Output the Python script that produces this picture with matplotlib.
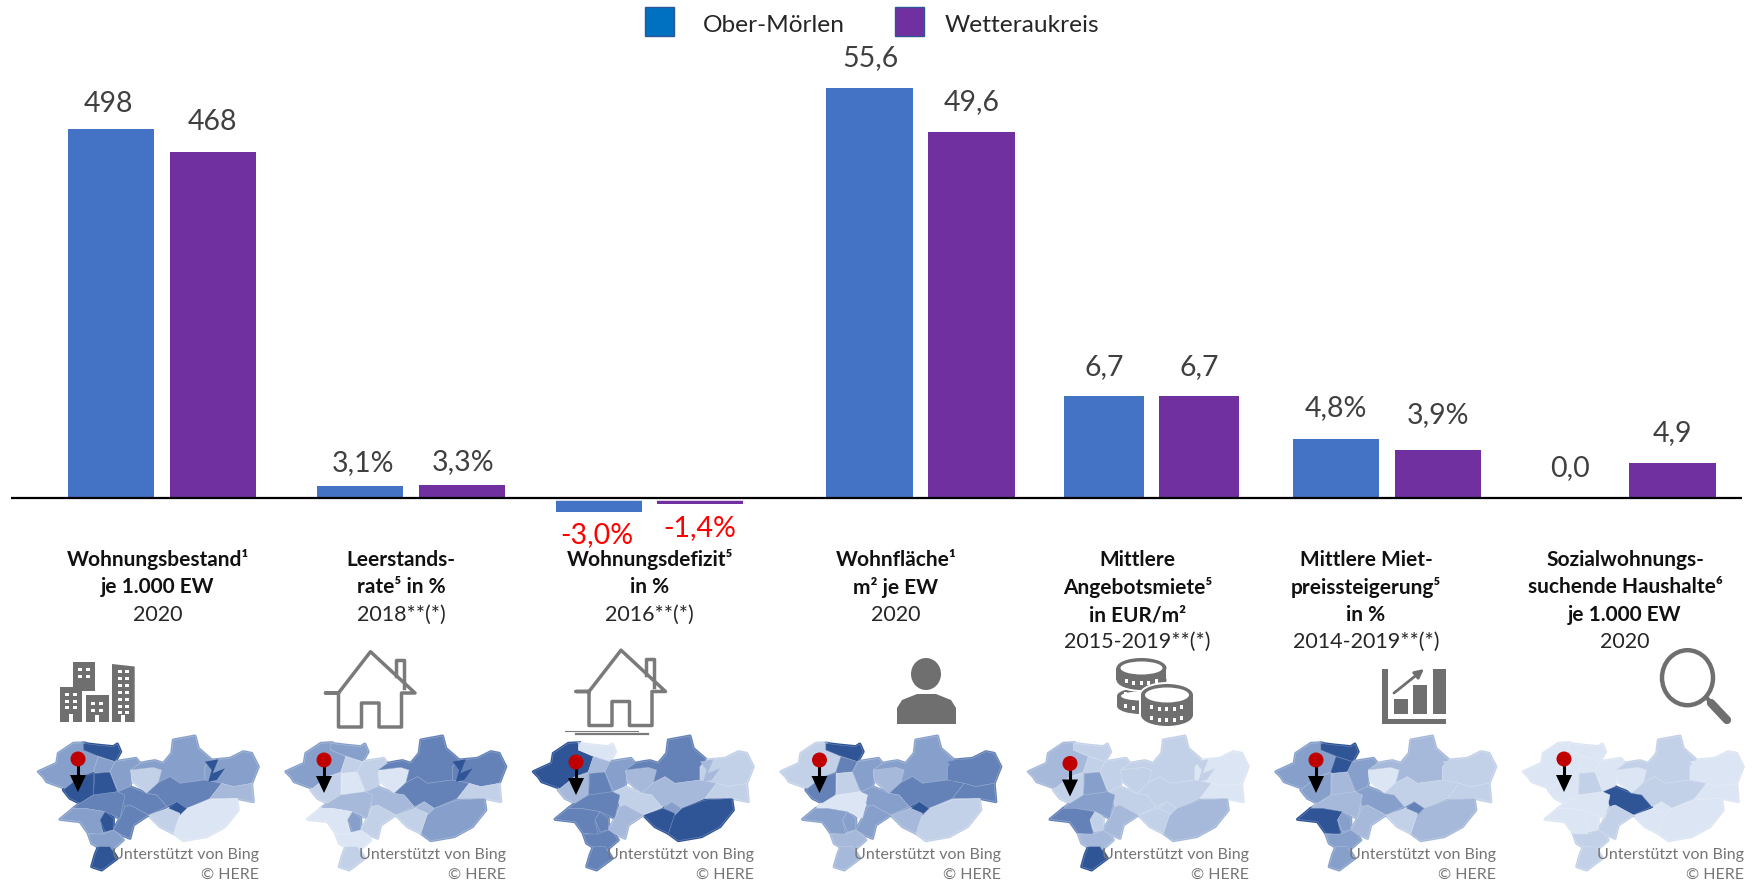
import matplotlib
matplotlib.use("Agg")
import numpy as np
import matplotlib.pyplot as plt
from matplotlib.patches import Polygon, Rectangle, Ellipse, Circle

plt.rcParams['font.family'] = ['Lato', 'DejaVu Sans']

W, H = 1753, 891

# chart data
series_names = ["Ober-Mörlen", "Wetteraukreis"]
values_a = [498, 3.1, -3.0, 55.6, 6.7, 4.8, 0.0]
values_b = [468, 3.3, -1.4, 49.6, 6.7, 3.9, 4.9]
labels_a = ["498", "3,1%", "-3,0%", "55,6", "6,7", "4,8%", "0,0"]
labels_b = ["468", "3,3%", "-1,4%", "49,6", "6,7", "3,9%", "4,9"]
titles = [
    ["Wohnungsbestand¹", "je 1.000 EW"],
    ["Leerstands-", "rate⁵ in %"],
    ["Wohnungsdefizit⁵", "in %"],
    ["Wohnfläche¹", "m² je EW"],
    ["Mittlere", "Angebotsmiete⁵", "in EUR/m²"],
    ["Mittlere Miet-", "preissteigerung⁵", "in %"],
    ["Sozialwohnungs-", "suchende Haushalte⁶", "je 1.000 EW"],
]
years = ["2020", "2018**(*)", "2016**(*)", "2020", "2015-2019**(*)", "2014-2019**(*)", "2020"]

# layout of the seven separately scaled bar groups, in pixels
group_left = [68, 317, 556, 826, 1064, 1293, 1527]
group_right = [256, 505, 743, 1015, 1239, 1481, 1716]
units_per_px = [498 / 368, 3.1 / 11.5, 3.0 / 14, 55.6 / 409.5, 6.7 / 101.7, 4.8 / 58.5, 4.9 / 34.5]
title_x = [157.6, 401, 649.6, 896, 1137.6, 1366, 1625]
label_dx_a = [-3, 3, -2, 1, 0, 0, 0]
label_dx_b = [0, 1, 0, 0, 0, 0, 0]
label_dy_a = [25.5, 23, -24, 30, 29, 31, 29]
label_dy_b = [30, 23, -24, 30, 29, 34.5, 30]
BASE = 497.5

BLUE = "#4472C4"
PURPLE = "#7030A0"
GREY = "#6F6F6F"

# map shades, palest to darkest
shades = ["#DCE5F3", "#C3D1E8", "#A6B9DA", "#87A0CB", "#6482B8", "#2F5597"]

regions = [
    [(25, 125), (80, 100), (85, 70), (130, 40), (165, 38), (160, 60), (205, 80), (190, 125), (150, 140), (105, 175), (50, 155), (40, 140)],
    [(160, 40), (200, 45), (250, 50), (262, 42), (272, 65), (255, 95), (205, 78), (160, 60)],
    [(205, 80), (255, 95), (240, 125), (195, 130), (190, 125)],
    [(190, 130), (190, 195), (150, 220), (120, 205), (100, 180), (150, 140)],
    [(195, 130), (240, 127), (262, 185), (215, 200), (190, 195)],
    [(240, 125), (255, 95), (318, 85), (330, 100), (302, 120), (305, 150), (300, 170), (265, 185)],
    [(302, 120), (370, 112), (395, 120), (385, 160), (350, 190), (305, 150)],
    [(330, 100), (355, 95), (375, 92), (400, 100), (425, 70), (430, 30), (495, 18), (505, 55), (545, 90), (525, 110), (525, 150), (450, 160), (420, 140), (385, 158), (395, 120), (370, 112), (302, 120)],
    [(545, 90), (600, 85), (640, 65), (665, 70), (685, 110), (665, 160), (610, 170), (575, 160), (525, 150), (525, 110)],
    [(385, 158), (420, 140), (450, 160), (525, 150), (575, 160), (540, 205), (470, 235), (440, 215), (410, 230), (380, 195), (350, 190)],
    [(575, 160), (610, 170), (665, 160), (670, 215), (620, 205), (570, 205), (540, 205)],
    [(470, 235), (540, 210), (620, 205), (625, 240), (585, 290), (530, 320), (460, 332), (430, 310), (450, 250)],
    [(415, 235), (440, 215), (470, 235), (450, 255), (425, 250)],
    [(355, 255), (415, 235), (450, 250), (430, 310), (390, 290)],
    [(265, 185), (300, 170), (350, 190), (380, 195), (410, 230), (355, 255), (300, 225), (285, 230)],
    [(130, 235), (150, 220), (190, 195), (262, 185), (285, 195), (270, 265), (225, 245), (165, 235)],
    [(90, 268), (130, 235), (165, 235), (225, 245), (210, 270), (220, 315), (175, 310), (150, 275)],
    [(210, 270), (225, 245), (250, 265), (250, 300), (225, 305)],
    [(270, 265), (285, 230), (300, 225), (355, 255), (310, 285), (300, 325), (265, 310), (250, 300)],
    [(175, 312), (220, 312), (250, 300), (265, 310), (280, 330), (240, 365), (210, 355), (185, 340)],
    [(205, 350), (240, 350), (262, 385), (215, 420), (185, 410), (195, 375)],
]
lake = [(525, 95), (565, 88), (548, 130), (585, 115), (560, 150), (535, 155), (545, 120)]

map_shades = [
    [3, 5, 3, 5, 5, 3, 1, 3, 3, 4, 2, 0, 5, 1, 4, 4, 3, 5, 4, 3, 5],
    [3, 3, 1, 1, 0, 1, 0, 4, 4, 4, 1, 3, 2, 1, 2, 2, 0, 3, 1, 0, 1],
    [5, 0, 2, 2, 4, 3, 2, 4, 1, 2, 1, 5, 3, 5, 1, 4, 4, 4, 2, 4, 4],
    [1, 5, 4, 4, 1, 3, 2, 3, 4, 4, 4, 1, 5, 2, 3, 0, 3, 3, 3, 2, 2],
    [2, 1, 1, 1, 3, 1, 1, 1, 0, 1, 0, 2, 1, 1, 1, 3, 4, 1, 2, 2, 5],
    [3, 5, 5, 3, 2, 3, 0, 2, 1, 1, 1, 2, 4, 1, 3, 2, 5, 3, 2, 3, 3],
    [0, 0, 0, 0, 1, 0, 0, 1, 0, 1, 0, 0, 0, 0, 5, 0, 0, 0, 1, 1, 1],
]
lake_shades = [5, 5, 2, 4, 1, 1, 0]
map_step = 247.5
pin_x = [78, 324, 576, 819.5, 1070, 1316, 1564]
pin_y = [759, 760, 762, 760, 763.5, 760, 759]

fig = plt.figure(figsize=(W / 100, H / 100), dpi=100, facecolor="white")

# bars, one axes per group since every indicator has its own scale
for i in range(7):
    ax = fig.add_axes([group_left[i] / W, (H - 525) / H, (group_right[i] - group_left[i]) / W, 485 / H])
    u = units_per_px[i]
    ax.set_ylim(-(525 - BASE) * u, (BASE - 40) * u)
    ax.set_xlim(-0.425, 1.425)
    ax.axis("off")
    vals = [values_a[i], values_b[i]]
    bars = ax.bar([0, 1], vals, width=0.85, color=[BLUE, PURPLE])
    if values_a[i] < 0:
        ax.axhline(0, color="white", lw=4)
    offsets = [(label_dx_a[i], label_dy_a[i]), (label_dx_b[i], label_dy_b[i])]
    for bar, lab, val, off in zip(bars, [labels_a[i], labels_b[i]], vals, offsets):
        ax.annotate(lab, (bar.get_x() + bar.get_width() / 2, val), xytext=off,
                    textcoords="offset pixels", ha="center", va="center", fontsize=20.5,
                    color="#FF0000" if val < 0 else "#404040", annotation_clip=False)

# overlay in pixel coordinates for axis line, texts, icons and maps
ov = fig.add_axes([0, 0, 1, 1], zorder=5)
ov.set_xlim(0, W)
ov.set_ylim(H, 0)
ov.axis("off")
ov.patch.set_alpha(0)

ov.plot([11, 1742], [BASE, BASE], color="black", lw=1.6, solid_capstyle="butt")

# legend
ov.add_patch(Rectangle((645, 7), 29, 29, fc="#0070C0", ec="#2F5597", lw=1))
ov.add_patch(Rectangle((895, 7), 29, 29, fc=PURPLE, ec="#2F5597", lw=1))
ov.text(703, 26, series_names[0], fontsize=17.6, color="#262626", va="center")
ov.text(945, 25, series_names[1], fontsize=17.6, color="#262626", va="center")

# indicator titles
line_y = [560, 587, 615, 642]
for x, title, year in zip(title_x, titles, years):
    for k, line in enumerate(title):
        ov.text(x, line_y[k], line, fontsize=15, fontweight="bold", color="#111111", ha="center", va="center")
    ov.text(x, line_y[len(title)], year, fontsize=15.5, color="#262626", ha="center", va="center")

# maps
for m in range(7):
    dx = 30 + m * map_step
    # first pass with thick edges closes the gaps between the traced regions
    for poly, s in zip(regions, map_shades[m]):
        pts = [(dx + px / 3, 730 + py / 3) for px, py in poly]
        ov.add_patch(Polygon(pts, closed=True, fc=shades[s], ec=shades[s], lw=2.2, joinstyle="round"))
    for poly, s in zip(regions, map_shades[m]):
        pts = [(dx + px / 3, 730 + py / 3) for px, py in poly]
        ov.add_patch(Polygon(pts, closed=True, fc=shades[s], ec=shades[s], lw=0.2, joinstyle="round"))
        ov.add_patch(Polygon(pts, closed=True, fc="none", ec="white", lw=0.4, alpha=0.3))
    pts = [(dx + px / 3, 730 + py / 3) for px, py in lake]
    ov.add_patch(Polygon(pts, closed=True, fc=shades[lake_shades[m]], ec="none"))
    ov.text(dx + 229, 855, "Unterstützt von Bing", fontsize=11.5, color="#757575", ha="right", va="center", zorder=6)
    ov.text(dx + 229, 875, "© HERE", fontsize=11.5, color="#757575", ha="right", va="center", zorder=6)
    # pin
    x, y = pin_x[m], pin_y[m]
    ov.plot([x, x], [y, y + 18], color="black", lw=2.2, zorder=7)
    ov.add_patch(Polygon([(x - 8, y + 16), (x + 8, y + 16), (x, y + 33)], fc="black", ec="none", zorder=7))
    ov.add_patch(Circle((x, y), 7.5, fc="#C00000", ec="none", zorder=8))


# buildings icon
def rect(x0, y0, x1, y1, c=GREY, z=3):
    ov.add_patch(Rectangle((x0, y0), x1 - x0, y1 - y0, fc=c, ec="none", zorder=z))


def windows(xs, ys):
    for xw in xs:
        for yw in ys:
            rect(xw, yw, xw + 3.6, yw + 3.4, "white")


rect(60.5, 687, 82.5, 722)
rect(73.5, 662, 95.5, 691)
rect(86.5, 695, 109, 722)
ov.add_patch(Polygon([(112, 664), (134.7, 666.5), (134.7, 722), (112, 722)], fc=GREY, ec="none"))
windows([65.5, 73], [693, 699.5, 706])
windows([78.5, 86], [667.5, 674.5])
windows([91.5, 99], [702, 709])
windows([118, 125.5], [670, 677, 684, 691, 698, 705, 711])
rect(69.5, 714, 73.5, 722, "white")
rect(95.5, 715, 99.5, 722, "white")
rect(121, 715, 125, 722, "white")


# house icons
def house(dx, dy):
    xs = [325.5, 338.5, 370.5, 415, 401.5, 401.5, 379, 379, 361.5, 361.5, 338.5, 338.5]
    ys = [693, 693, 651.7, 693, 693, 727, 727, 703, 703, 727, 727, 693]
    ov.add_patch(Polygon([(a + dx, b + dy) for a, b in zip(xs, ys)], closed=True, fc="none", ec="#7A7A7A", lw=2.5, joinstyle="round"))
    ov.plot([396 + dx, 396 + dx, 404 + dx, 404 + dx], [676 + dy, 660 + dy, 660 + dy, 688 + dy], color="#7A7A7A", lw=2.5)


house(0, 0)
house(250.5, -1.5)
ov.plot([565, 638], [731, 731], color="#7A7A7A", lw=0.8)
ov.plot([576, 648], [733.5, 733.5], color="#7A7A7A", lw=1.6)

# person icon
ov.add_patch(Ellipse((926, 674), 30, 32, fc=GREY, ec="none"))
ov.add_patch(Polygon([(897, 724), (897, 708), (902, 700), (917, 694), (936, 694), (951, 700), (956, 708), (956, 724)], fc=GREY, ec="none"))


# coins icon
def coins(cx, top, bottom, rx, ry, dash_rows, z):
    ov.add_patch(Ellipse((cx, top + ry), 2 * rx + 4, 2 * ry + 4, fc="white", ec="none", zorder=z))
    rect(cx - rx - 2, top + ry, cx + rx + 2, bottom - ry, "white", z)
    ov.add_patch(Ellipse((cx, bottom - ry), 2 * rx + 4, 2 * ry + 4, fc="white", ec="none", zorder=z))
    ov.add_patch(Ellipse((cx, top + ry), 2 * rx, 2 * ry, fc=GREY, ec="none", zorder=z))
    rect(cx - rx, top + ry, cx + rx, bottom - ry, GREY, z)
    ov.add_patch(Ellipse((cx, bottom - ry), 2 * rx, 2 * ry, fc=GREY, ec="none", zorder=z))
    ov.add_patch(Ellipse((cx, top + ry), 2 * rx - 8, 2 * ry - 7, fc="white", ec="none", zorder=z))
    for row in dash_rows:
        for t in np.arange(-2, 3):
            xd = cx + t * 7.5
            yd = row + 3 * (1 - (t / 2.5) ** 2)
            rect(xd - 1.5, yd - 2, xd + 1.5, yd + 2, "white", z)


coins(1141, 688, 714, 24, 8, [693, 705], 3)
coins(1141.5, 658, 690, 25, 10, [680], 4)
coins(1167, 684, 726, 26, 11, [706, 717], 5)

# growth chart icon
rect(1382, 669, 1388, 724)
rect(1382, 719, 1446.5, 724)
rect(1394, 699, 1408, 714)
rect(1413, 685, 1427.5, 714)
rect(1433, 669, 1446, 714)
ov.annotate("", xy=(1424, 669), xytext=(1394, 693), arrowprops=dict(arrowstyle="-|>", color=GREY, lw=2, mutation_scale=13, shrinkA=0, shrinkB=0))

# magnifier icon
ov.add_patch(Ellipse((1687.5, 677.7), 51, 55, fc="none", ec=GREY, lw=3.2))
ov.plot([1707, 1711], [698, 703], color=GREY, lw=3, solid_capstyle="butt")
ov.plot([1711, 1727], [703, 720], color=GREY, lw=6, solid_capstyle="round")

fig.savefig("out.png", dpi=100)
